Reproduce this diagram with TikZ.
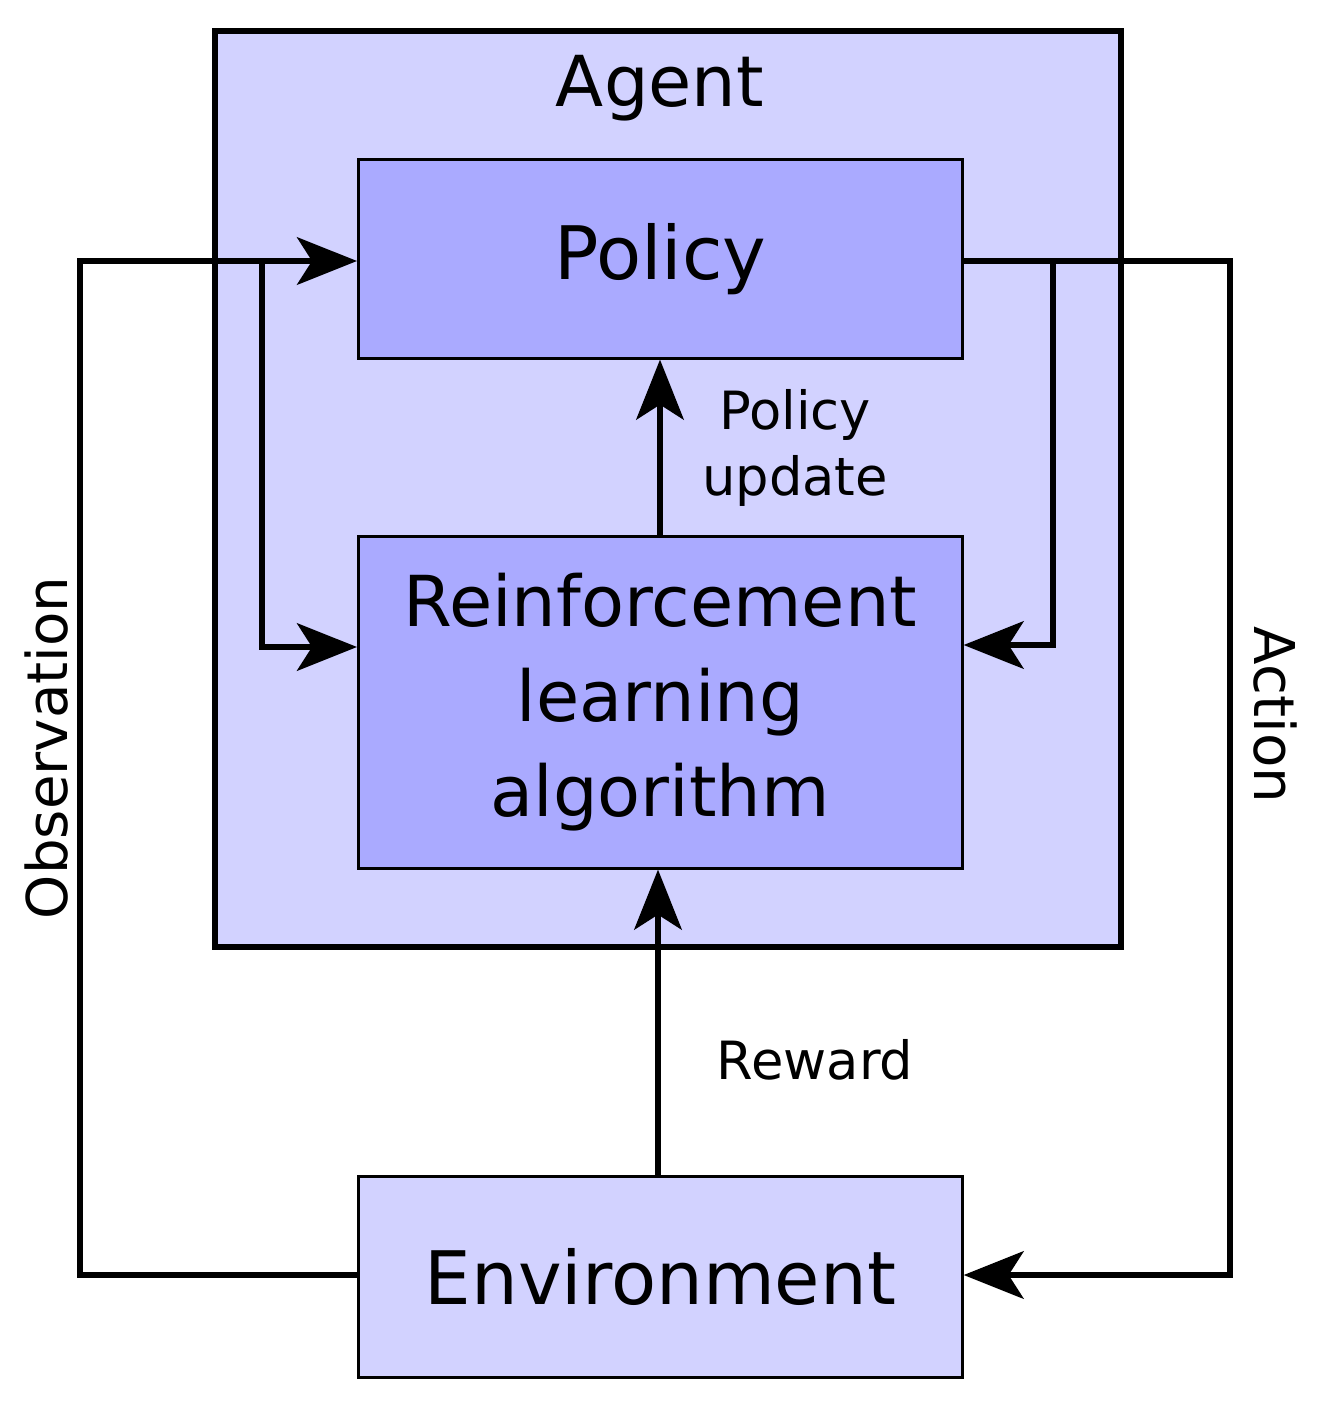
\documentclass[tikz,border=0pt]{standalone}
\usepackage{fontspec}
\setmainfont{DejaVu Sans}
\usetikzlibrary{arrows.meta}
\definecolor{light}{HTML}{D2D2FF}
\definecolor{mid}{HTML}{AAAAFF}
\begin{document}
\begin{tikzpicture}[x=0.02cm,y=-0.02cm,
  box/.style={draw=black,line width=1.5pt,inner sep=0pt,anchor=north west},
  conn/.style={line width=3.4pt,-{Stealth[length=1.2cm,width=0.95cm,inset=0.3cm]}},
  line/.style={line width=3.4pt}]
\useasboundingbox (0,0) rectangle (1323,1401);
\node[box,fill=light,line width=3.4pt,minimum width=906*0.02cm,minimum height=916*0.02cm] (agent) at (212,28) {};
\node[font=\fontsize{40}{48}\selectfont] (agentlbl) at (660,88) {Agent};
\node[box,fill=mid,minimum width=604*0.02cm,minimum height=199*0.02cm] (policy) at (357,158) {};
\node[font=\fontsize{42}{50}\selectfont] at (policy.center) {Policy};
\node[box,fill=mid,minimum width=604*0.02cm,minimum height=332*0.02cm] (rl) at (357,535) {};
\node[font=\fontsize{40}{54}\selectfont,align=center] at (rl.center) {Reinforcement\\learning\\algorithm};
\node[box,fill=light,minimum width=604*0.02cm,minimum height=201*0.02cm] (env) at (357,1175) {};
\node[font=\fontsize{42}{50}\selectfont] at (env.center) {Environment};
% coordinates
\coordinate (o1) at (80,1275); \coordinate (o2) at (80,261);
\coordinate (ob) at (262,261); \coordinate (ob2) at (262,647);
\coordinate (a1) at (1230,261); \coordinate (a2) at (1230,1275);
\coordinate (ab) at (1053,261); \coordinate (ab2) at (1053,645);
% observation
\draw[conn] (env.west|-o1) -- (o1) -- (o2) -- (policy.west|-o2);
\draw[conn] (ob) -- (ob2) -- (rl.west|-ob2);
% action
\draw[conn] (policy.east|-a1) -- (a1) -- (a2) -- (env.east|-a2);
\draw[conn] (ab) -- (ab2) -- (rl.east|-ab2);
% policy update & reward
\draw[conn] (rl.north-|660,0) -- (policy.south-|660,0);
\draw[conn] (env.north-|658,0) -- (rl.south-|658,0);
\node[font=\fontsize{30}{38}\selectfont,align=center] (pu) at (795,448) {Policy\\update};
\node[font=\fontsize{30}{38}\selectfont] (rw) at (815,1060) {Reward};
\node[font=\fontsize{32}{38}\selectfont,rotate=90] (obs) at (47,748) {Observation};
\node[font=\fontsize{32}{38}\selectfont,rotate=-90] (act) at (1275,715) {Action};
\end{tikzpicture}
\end{document}
